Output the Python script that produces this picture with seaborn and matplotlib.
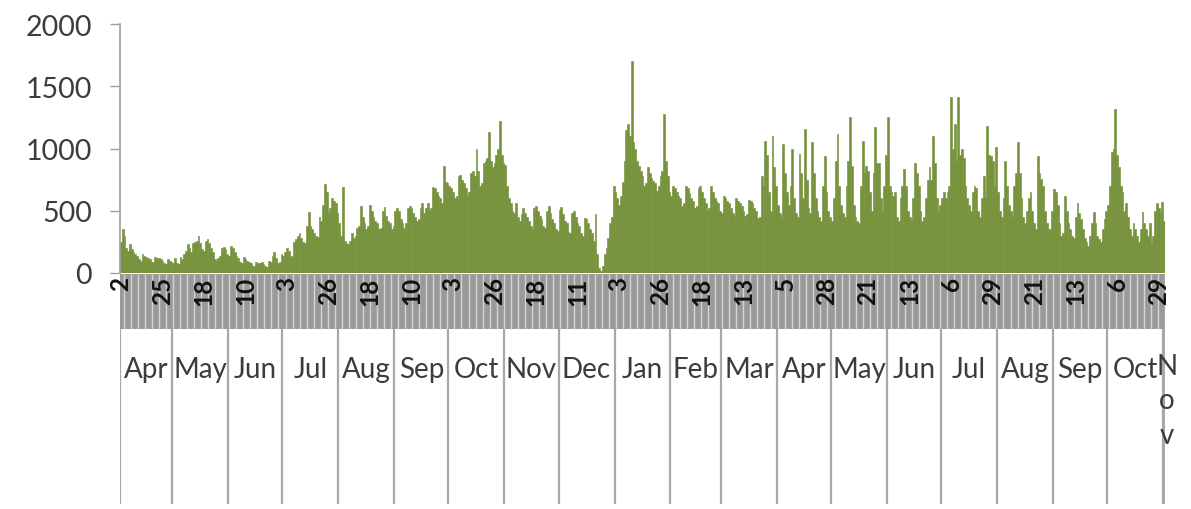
import numpy as np
import pandas as pd
import matplotlib
matplotlib.use("Agg")
import matplotlib.pyplot as plt
from matplotlib.patches import Rectangle
import seaborn as sns

# ---------------- data ----------------
start_date = "2014-04-02"
daily_values = [
    250, 350, 300, 200, 180, 230, 190,
    170, 150, 140, 110, 100, 150, 140,
    130, 120, 110, 90, 90, 130, 120,
    120, 110, 100, 80, 70, 110, 100,
    90, 80, 120, 80, 70, 130, 110,
    150, 180, 230, 200, 170, 240, 250,
    260, 300, 240, 190, 180, 260, 270,
    240, 200, 170, 110, 100, 120, 140,
    200, 210, 190, 150, 140, 220, 200,
    170, 140, 120, 90, 80, 130, 110,
    100, 90, 80, 60, 60, 90, 80,
    80, 90, 70, 60, 50, 100, 90,
    140, 170, 120, 80, 90, 150, 140,
    170, 200, 180, 130, 140, 250, 270,
    300, 320, 280, 250, 240, 380, 490,
    380, 350, 320, 300, 290, 450, 420,
    550, 715, 650, 480, 520, 600, 580,
    560, 480, 400, 300, 690, 260, 240,
    230, 260, 320, 280, 300, 360, 380,
    540, 450, 400, 350, 380, 550, 500,
    450, 420, 400, 350, 360, 500, 530,
    460, 420, 400, 350, 380, 500, 520,
    500, 430, 400, 360, 400, 520, 540,
    520, 480, 450, 420, 430, 520, 560,
    480, 520, 560, 500, 520, 690, 680,
    650, 620, 600, 560, 860, 730, 720,
    700, 680, 650, 600, 620, 780, 790,
    750, 720, 680, 620, 650, 800, 820,
    780, 1000, 820, 700, 720, 880, 900,
    920, 1130, 900, 850, 880, 950, 1000,
    1220, 950, 880, 870, 700, 600, 560,
    500, 480, 560, 450, 420, 470, 520,
    480, 450, 420, 380, 350, 520, 540,
    500, 460, 430, 380, 360, 500, 540,
    480, 430, 400, 350, 340, 510, 530,
    470, 420, 400, 330, 320, 480, 500,
    450, 400, 380, 320, 300, 440, 430,
    400, 350, 320, 260, 470, 150, 40,
    20, 60, 150, 200, 280, 400, 450,
    700, 650, 600, 550, 620, 730, 900,
    1150, 1200, 1100, 1700, 1050, 1000, 900,
    860, 820, 780, 700, 720, 850, 800,
    760, 740, 720, 660, 700, 780, 820,
    1275, 900, 780, 650, 620, 700, 680,
    650, 620, 600, 540, 560, 700, 680,
    640, 600, 580, 520, 540, 680, 700,
    650, 600, 560, 500, 520, 700, 650,
    600, 580, 560, 500, 480, 620, 600,
    580, 560, 520, 480, 460, 600, 580,
    560, 540, 500, 460, 470, 590, 580,
    560, 520, 500, 440, 450, 780, 700,
    1060, 950, 650, 500, 1100, 850, 700,
    550, 480, 450, 1035, 800, 650, 550,
    700, 1000, 600, 480, 450, 955, 800,
    600, 1155, 750, 520, 480, 1050, 800,
    600, 500, 450, 420, 700, 940, 650,
    500, 450, 420, 600, 900, 1115, 700,
    550, 480, 450, 700, 900, 1250, 860,
    550, 450, 420, 400, 700, 1060, 800,
    860, 820, 650, 500, 800, 1170, 880,
    880, 600, 500, 700, 950, 1250, 700,
    650, 620, 650, 450, 420, 600, 700,
    835, 700, 500, 450, 420, 600, 880,
    800, 700, 500, 420, 450, 600, 750,
    850, 750, 1100, 880, 600, 500, 550,
    600, 650, 600, 650, 700, 1410, 1000,
    1200, 900, 1410, 950, 1000, 920, 700,
    600, 550, 500, 650, 700, 680, 500,
    450, 600, 780, 600, 1180, 950, 940,
    900, 700, 1010, 650, 500, 450, 600,
    900, 700, 550, 500, 450, 700, 800,
    1050, 800, 600, 450, 400, 500, 600,
    650, 500, 400, 350, 940, 800, 755,
    700, 500, 400, 350, 350, 500, 675,
    650, 550, 400, 300, 320, 620, 500,
    400, 350, 300, 280, 450, 560, 480,
    430, 350, 280, 250, 220, 300, 400,
    490, 400, 300, 270, 250, 350, 430,
    500, 550, 700, 970, 1000, 1320, 950,
    850, 700, 650, 500, 560, 450, 350,
    300, 400, 350, 300, 250, 350, 490,
    400, 350, 300, 400, 250, 300, 500,
    560, 520, 480, 570, 420,
]
y_ticks = [0, 500, 1000, 1500, 2000]
day_label_step = 23

# ---------------- derived ----------------
n = len(daily_values)
dates = pd.date_range(start_date, periods=n, freq="D")
df = pd.DataFrame({"day": np.arange(n), "value": daily_values})

GREEN = "#76933C"

sns.set_style("white")
plt.rcParams["font.family"] = ["Lato", "DejaVu Sans"]

fig = plt.figure(figsize=(11.91, 5.10), dpi=100)
left, width = 120 / 1191, 1045 / 1191
ax = fig.add_axes([left, 236 / 510, width, 249 / 510])

sns.barplot(data=df, x="day", y="value", color=GREEN, width=1.0,
            saturation=1, edgecolor=GREEN, linewidth=0.45, ax=ax)
ax.set_xlim(-0.5, n - 0.5)
ax.set_ylim(0, 2000)
ax.set_yticks(y_ticks)
ax.set_yticklabels([str(v) for v in y_ticks])
ax.set_xticks([])
ax.set_xlabel("")
ax.set_ylabel("")
for s in ["top", "right", "bottom"]:
    ax.spines[s].set_visible(False)
ax.spines["left"].set_color("#a0a0a0")
ax.spines["left"].set_linewidth(1.2)
ax.tick_params(axis="y", length=7, width=1, color="#a0a0a0", pad=13,
               labelsize=20.5, labelcolor="#3c3c3c", left=True)

# ---------------- category axis (two levels) ----------------
ax2 = fig.add_axes([left, 3 / 510, width, 232 / 510])
ax2.set_xlim(-0.5, n - 0.5)
ax2.set_ylim(0, 1)
ax2.axis("off")
band_bottom = 1 - 55 / 232

ax2.add_patch(Rectangle((-0.5, band_bottom), n, 1 - band_bottom,
                        facecolor="#9a9a9a", edgecolor="none", clip_on=False))
ax2.vlines(np.arange(1.5, n, 3.9), band_bottom, 1, colors="#d4d4d4",
           linewidth=1.0)

for d in range(0, n, day_label_step):
    ax2.text(d, 0.99, str(dates[d].day), rotation=90, ha="center",
             va="top", fontsize=17.5, fontweight="bold", color="#111111")

month_start = [i for i in range(n) if i == 0 or dates[i].month != dates[i - 1].month]
bounds = [i - 0.5 for i in month_start] + [n - 0.5]
ax2.vlines(bounds, 0.01, band_bottom, colors="#a8a8a8", linewidth=1.6)

for a, b in zip(bounds[:-1], bounds[1:]):
    name = dates[int(a + 0.5)].strftime("%b")
    c = (a + b) / 2
    if b - a < 10:
        ax2.text(c + 1.5, 0.66, "\n".join(name), ha="center", va="top",
                 fontsize=20, color="#3c3c3c", linespacing=1.4)
    else:
        ax2.text(c, 0.59, name, ha="center", va="center", fontsize=20,
                 color="#3c3c3c")

fig.savefig("out.png", dpi=100)
